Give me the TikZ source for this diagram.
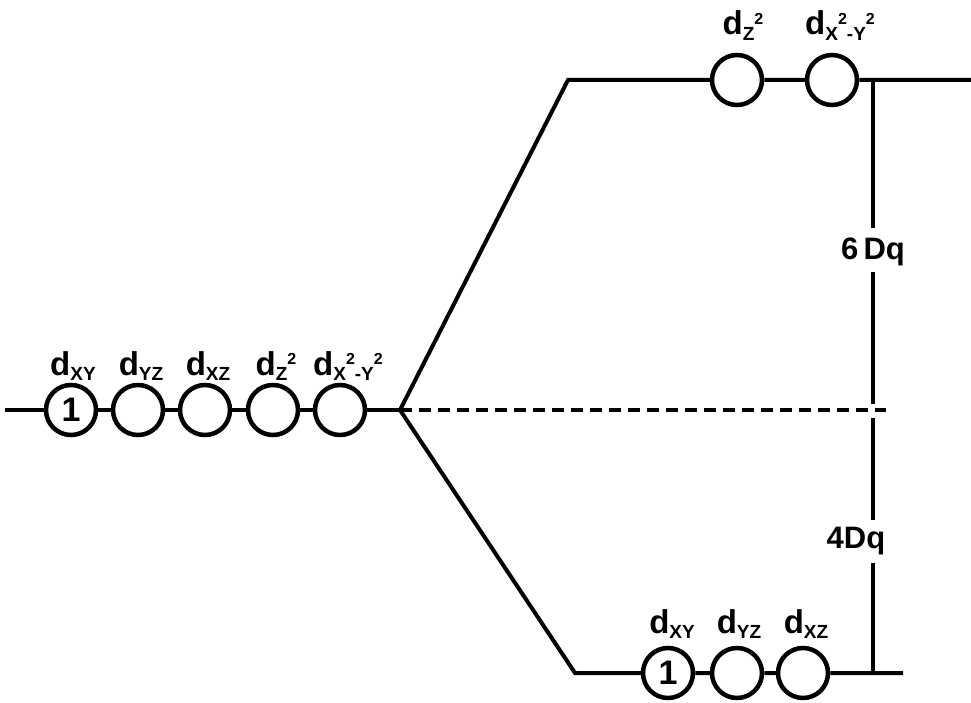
\documentclass[tikz,border=0pt]{standalone}
\usepackage{fontspec}
\setmainfont{Liberation Sans}
% subscript / superscript helpers for orbital labels
\newcommand\osub[1]{\raisebox{-0.3ex}{\fontsize{19}{19}\selectfont #1}}
\newcommand\osup[1]{\raisebox{0.6ex}{\fontsize{16}{16}\selectfont #1}}
\begin{document}
\begin{tikzpicture}[x=1pt,y=-1pt,
  orb/.style={circle,draw,line width=4.5pt,minimum size=50pt,inner sep=0pt,
    font=\bfseries\fontsize{34}{34}\selectfont},
  lvl/.style={line width=4pt},
  split/.style={line width=4pt,dash pattern=on 12pt off 7pt},
  lab/.style={anchor=base,inner sep=0pt,font=\bfseries\fontsize{33}{33}\selectfont},
  dq/.style={inner sep=0pt,font=\bfseries\fontsize{31}{31}\selectfont},
]
\useasboundingbox (0,0) rectangle (971,703);

% free ion: five degenerate d orbitals
\coordinate (l0) at (5,410);
\node[orb] (a1) at (71,410) {1};
\node[orb] (a2) at (138,410) {};
\node[orb] (a3) at (205,410) {};
\node[orb] (a4) at (273,410) {};
\node[orb] (a5) at (340,410) {};
\coordinate (f) at (400,410);
\draw[lvl] (l0) -- (a1) -- (a2) -- (a3) -- (a4) -- (a5) -- (f);

\node[lab] at (73,375) {d\osub{XY}};
\node[lab] at (141,375) {d\osub{YZ}};
\node[lab] at (208,375) {d\osub{XZ}};
\node[lab] at (276,375) {d\osub{Z}\osup{2}};
\node[lab] at (348,375) {d\osub{X}\osup{2}\osub{-Y}\osup{2}};

% upper (e_g) level
\coordinate (u0) at (568,80);
\node[orb] (e1) at (737,80) {};
\node[orb] (e2) at (832,80) {};
\coordinate (u1) at (971,80);
\draw[lvl] (f) -- (u0) -- (e1) -- (e2) -- (u1);
\node[lab] at (743,35) {d\osub{Z}\osup{2}};
\node[lab] at (840,35) {d\osub{X}\osup{2}\osub{-Y}\osup{2}};

% lower (t_2g) level
\coordinate (d0) at (575,673);
\node[orb] (t1) at (668,673) {1};
\node[orb] (t2) at (737,673) {};
\node[orb] (t3) at (803,673) {};
\coordinate (d1) at (903,673);
\draw[lvl] (f) -- (d0) -- (t1) -- (t2) -- (t3) -- (d1);
\node[lab] at (672,633) {d\osub{XY}};
\node[lab] at (739,633) {d\osub{YZ}};
\node[lab] at (806,633) {d\osub{XZ}};

% barycentre
\coordinate (b1) at (886,410);
\draw[split] (f) -- (b1);

% splitting energies
\node[dq] (q6) at (873,252) {6\,Dq};
\node[dq] (q4) at (856,541) {4Dq};
\coordinate (v1) at (873,80);
\coordinate (v2) at (873,228);
\coordinate (v3) at (873,272);
\coordinate (v4) at (873,404);
\coordinate (v5) at (873,418);
\coordinate (v6) at (873,520);
\coordinate (v7) at (873,563);
\coordinate (v8) at (873,673);
\draw[lvl] (v1) -- (v2);
\draw[lvl] (v3) -- (v4);
\draw[lvl] (v5) -- (v6);
\draw[lvl] (v7) -- (v8);
\end{tikzpicture}
\end{document}
